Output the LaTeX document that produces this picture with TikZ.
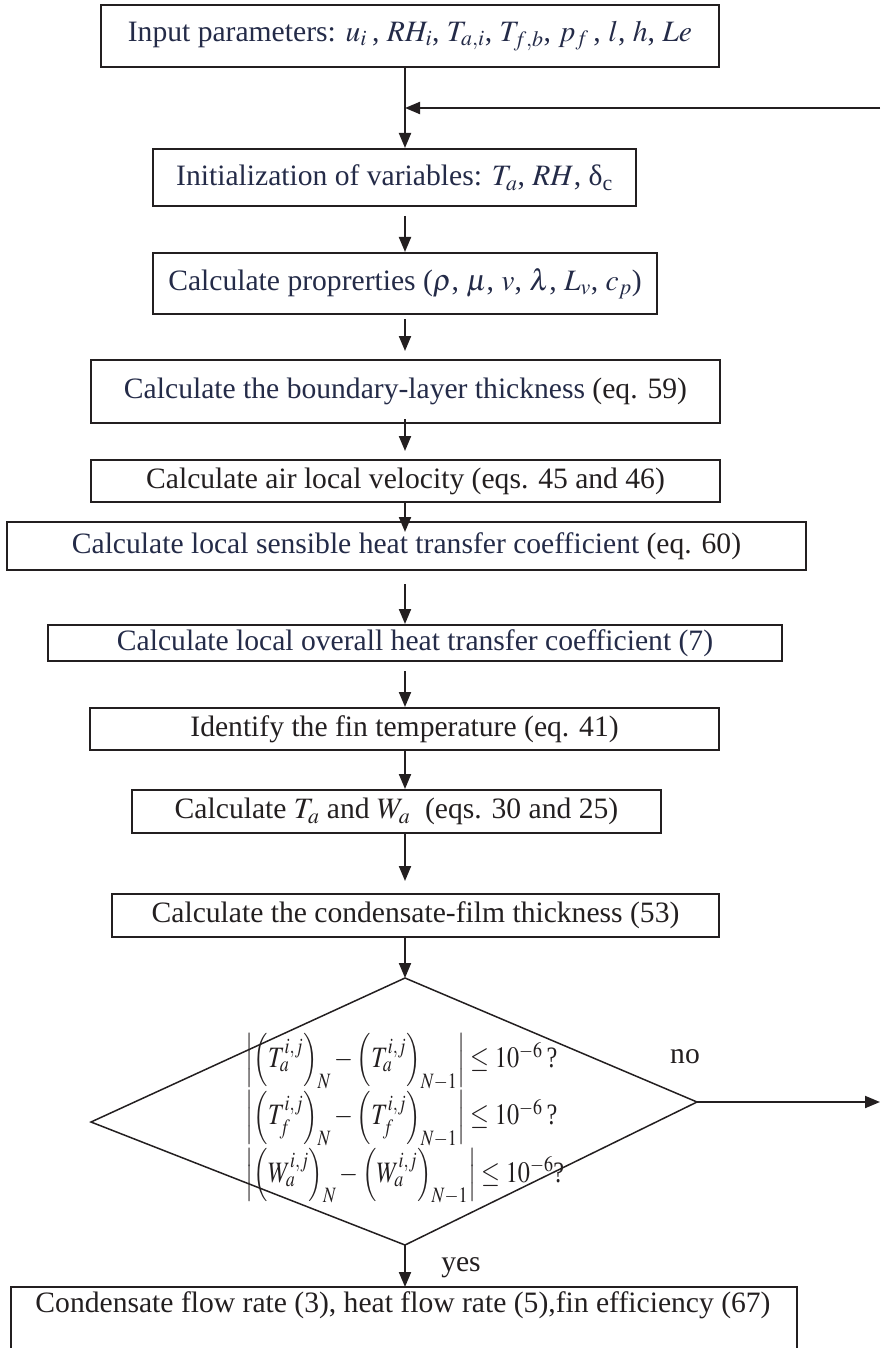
\documentclass[tikz,border=0pt]{standalone}
\usepackage{mathptmx}
\usepackage{fontspec}
\setmainfont{Liberation Serif}
\usetikzlibrary{arrows.meta}
\definecolor{ink}{RGB}{35,31,32}
\definecolor{inkblue}{RGB}{36,43,72}
\newcommand{\convtest}[2]{\Bigl|\Bigl(#1^{i,j}_{#2}\Bigr)_N-\Bigl(#1^{i,j}_{#2}\Bigr)_{N-1}\Bigr|\le 10^{-6}}

\begin{document}
\begin{tikzpicture}[
    x=1pt, y=-1pt,
    every node/.style={font=\fontsize{29.6}{35}\selectfont, text=ink},
    proc/.style={draw=ink, line width=2pt, inner sep=0pt},
    flow/.style={draw=ink, line width=2pt, -{Triangle[length=15pt, width=12pt]}},
    cond/.style={draw=ink, line width=1.5pt, line join=miter},
    blue text/.style={text=inkblue}
]
    \useasboundingbox (0,0) rectangle (880,1348);
    \coordinate (axis) at (405,0);

    % Boxes, top to bottom
    \node[proc, blue text, minimum width=618, minimum height=62] (input) at (410,36)
        {Input parameters: $u_i$\,, $RH_i$, $T_{a,i}$, $T_{f,b}$, $p_f$\,, $l$, $h$, $Le$};
    \node[proc, blue text, minimum width=483, minimum height=57] (init) at (394.5,177.5)
        {Initialization of variables: $T_a$, $RH$, δ\textsubscript{c}};
    \node[proc, blue text, minimum width=504, minimum height=61] (props) at (405,283.5)
        {Calculate proprerties ($\rho$, $\mu$, $v$, $\lambda$, $L_v$, $c_p$)};
    \node[proc, minimum width=629, minimum height=63] (blayer) at (405.5,391.5)
        {\textcolor{inkblue}{Calculate the boundary-layer thickness} (eq. 59)};
    \node[proc, minimum width=629, minimum height=42] (veloc) at (405.5,481)
        {Calculate air local velocity (eqs. 45 and 46)};
    \node[proc, minimum width=799, minimum height=48] (sensible) at (406.5,546)
        {\textcolor{inkblue}{Calculate local sensible heat transfer coefficient} (eq. 60)};
    \node[proc, blue text, minimum width=734, minimum height=36] (overall) at (415,643)
        {Calculate local overall heat transfer coefficient (7)};
    \node[proc, minimum width=629, minimum height=42] (fintemp) at (404.5,729)
        {Identify the fin temperature (eq. 41)};
    \node[proc, minimum width=529, minimum height=43] (tawa) at (396.5,811.5)
        {Calculate $T_a$ and $W_a$~ (eqs. 30 and 25)};
    \node[proc, minimum width=607, minimum height=43] (film) at (415.5,915.5)
        {Calculate the condensate-film thickness (53)};

    % Convergence test
    \coordinate (dtop) at (405,978);
    \coordinate (dright) at (697,1102);
    \coordinate (dbottom) at (405,1245);
    \coordinate (dleft) at (91,1122);
    \draw[cond] (dtop) -- (dright) -- (dbottom) -- (dleft) -- cycle;
    \node[align=left, anchor=west, font=\fontsize{29.6}{56}\selectfont] (check) at (242,1119)
        {\scalebox{0.82}[1]{$\convtest{T}{a}$\,?}\\
         \scalebox{0.82}[1]{$\convtest{T}{f}$\,?}\\
         \scalebox{0.82}[1]{$\convtest{W}{a}$?}};
    \node (no) at (685,1057) {no};
    \node (yes) at (461,1268) {yes};

    % Result box, open at the bottom
    \coordinate (resl) at (11,1287);
    \coordinate (resr) at (797,1287);
    \draw[proc] (11,1352) -- (resl) -- (resr) -- (797,1352);
    \node (result) at (403,1305)
        {Condensate flow rate (3), heat flow rate (5),fin efficiency (67)};

    % Connectors
    \coordinate (loopin) at (880,108);
    \draw[flow] (input.south -| axis) -- (init.north -| axis);
    \draw[flow] (loopin) -- (loopin -| axis);
    \draw[flow, shorten <=9pt] (init.south -| axis) -- (props.north -| axis);
    \draw[flow, shorten <=4pt, shorten >=8pt] (props.south -| axis) -- (blayer.north -| axis);
    \draw[flow, shorten <=-5pt, shorten >=8pt] (blayer.south -| axis) -- (veloc.north -| axis);
    \draw[flow, shorten >=-11pt] (veloc.south -| axis) -- (sensible.north -| axis);
    \draw[flow, shorten <=13pt] (sensible.south -| axis) -- (overall.north -| axis);
    \draw[flow, shorten <=9pt] (overall.south -| axis) -- (fintemp.north -| axis);
    \draw[flow] (fintemp.south -| axis) -- (tawa.north -| axis);
    \draw[flow, shorten >=12pt] (tawa.south -| axis) -- (film.north -| axis);
    \draw[flow] (film.south -| axis) -- (dtop);
    \draw[flow] (dbottom) -- (resl -| axis);
    \draw[flow] (dright) -- (dright -| loopin);
\end{tikzpicture}
\end{document}
